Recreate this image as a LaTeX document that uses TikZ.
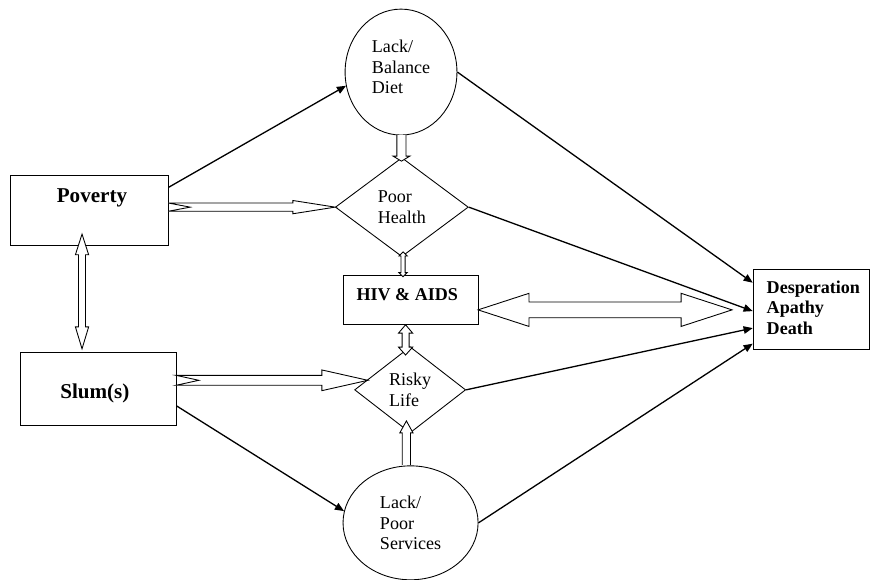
\documentclass[tikz,border=0pt]{standalone}
\usepackage{fontspec}
\setmainfont{Liberation Serif}
\usepackage{tikz}
\usetikzlibrary{arrows.meta,shapes.geometric}
\newcommand{\lbl}{\fontsize{12.4}{14}\selectfont}
\newcommand{\bigfnt}{\fontsize{14.5}{17}\selectfont}

\begin{document}
\begin{tikzpicture}[
  box/.style={draw, line width=0.6pt, inner sep=0pt},
  oval/.style={draw, ellipse, line width=0.6pt, inner sep=0pt, align=left, font=\lbl},
  rhomb/.style={draw, diamond, line width=0.6pt, inner sep=0pt, align=left, font=\lbl},
  link/.style={line width=0.9pt, -{Triangle[length=2.2mm,width=1.8mm]}},
  block/.style={draw, line width=0.6pt, fill=white, line join=miter}]
  \useasboundingbox (0,0) rectangle (21.0,14.0);
  % left column
  \node[box, minimum width=3.81cm, minimum height=1.69cm] (pov) at (2.15,8.91) {};
  \node[font=\bigfnt\bfseries] (povtxt) at (2.22,9.22) {Poverty};
  \node[box, minimum width=3.77cm, minimum height=1.76cm] (slum) at (2.37,4.62) {};
  \node[font=\bigfnt\bfseries] (slumtxt) at (2.29,4.51) {Slum(s)};
  % middle column
  \node[oval, minimum width=2.70cm, minimum height=3.04cm] (diet) at (9.68,12.26) {Lack/\\Balance\\Diet\\[-7pt]};
  \node[rhomb, minimum width=3.21cm, minimum height=2.39cm] (ph) at (9.70,9.00) {Poor\\Health};
  \node[box, minimum width=3.26cm, minimum height=1.18cm] (hiv) at (9.91,6.75) {};
  \node[font=\lbl\bfseries] (hivtxt) at (9.83,6.90) {HIV \& AIDS};
  \node[rhomb, minimum width=2.68cm, minimum height=2.08cm] (rl) at (9.90,4.59) {Risky\\Life};
  \node[oval, minimum width=3.26cm, minimum height=2.75cm] (svc) at (9.91,1.38) {Lack/\\Poor\\Services};
  % right
  \node[box, minimum width=2.80cm, minimum height=1.93cm] (desp) at (19.58,6.54) {};
  \node[anchor=west, align=left, inner sep=0pt, font=\fontsize{12.4}{14.4}\selectfont\bfseries] (desptxt) at (18.50,6.57) {Desperation\\Apathy\\Death};
  % plain arrows
  \draw[link] ([yshift=-0.29cm]pov.north east) -- (diet.194);
  \draw[link] ([yshift=-0.42cm]slum.east) -- (svc.170);
  \draw[link] (diet.east) -- ([yshift=-0.34cm]desp.north west);
  \draw[link] (ph.east) -- ([yshift=-0.05cm]desp.west);
  \draw[link] (rl.east) -- ([yshift=-0.46cm]desp.west);
  \draw[link] (svc.east) -- ([yshift=0.14cm]desp.south west);
  % block arrows
  \draw[block] (4.06,9.10) -- (7.07,9.10) -- (7.07,9.16) -- (8.09,9.00) -- (7.07,8.84)
    -- (7.07,8.90) -- (4.06,8.90) -- (4.59,9.00) -- cycle;
  \draw[block] (4.25,4.94) -- (7.77,4.94) -- (7.77,5.07) -- (8.88,4.82) -- (7.77,4.57)
    -- (7.77,4.70) -- (4.25,4.70) -- (4.80,4.82) -- cycle;
  \draw[block] (1.98,8.35) -- (2.14,7.85) -- (2.065,7.85) -- (2.065,6.11) -- (2.14,6.11)
    -- (1.98,5.58) -- (1.82,6.11) -- (1.895,6.11) -- (1.895,7.85) -- (1.82,7.85) -- cycle;
  \draw[block] (9.58,10.74) -- (9.58,10.23) -- (9.49,10.23) -- (9.69,10.11) -- (9.89,10.23)
    -- (9.80,10.23) -- (9.80,10.74);
  \draw[block] (9.73,7.92) -- (9.83,7.82) -- (9.78,7.82) -- (9.78,7.42) -- (9.83,7.42)
    -- (9.73,7.32) -- (9.63,7.42) -- (9.68,7.42) -- (9.68,7.82) -- (9.63,7.82) -- cycle;
  \draw[block] (9.79,6.16) -- (9.96,5.96) -- (9.875,5.96) -- (9.875,5.62) -- (9.96,5.62)
    -- (9.79,5.43) -- (9.62,5.62) -- (9.705,5.62) -- (9.705,5.96) -- (9.62,5.96) -- cycle;
  \draw[block] (9.71,2.78) -- (9.71,3.55) -- (9.65,3.55) -- (9.81,3.84) -- (9.97,3.55)
    -- (9.91,3.55) -- (9.91,2.78);
  \draw[block] (11.54,6.52) -- (12.77,6.92) -- (12.77,6.71) -- (16.44,6.71) -- (16.44,6.92)
    -- (17.67,6.52) -- (16.44,6.12) -- (16.44,6.33) -- (12.77,6.33) -- (12.77,6.12) -- cycle;
\end{tikzpicture}
\end{document}
